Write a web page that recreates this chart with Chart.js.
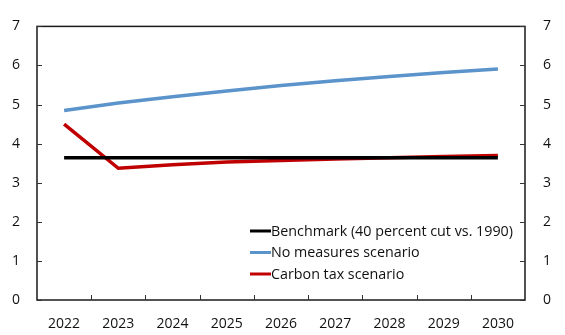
<!DOCTYPE html>
<html>
<head>
<meta charset="utf-8">
<script src="https://cdn.jsdelivr.net/npm/chart.js@4/dist/chart.umd.min.js"></script>
<style>
  html, body { margin: 0; padding: 0; background: #fff; }
  #wrap { width: 565px; height: 335px; }
</style>
</head>
<body>
<div id="wrap"><canvas id="c" width="565" height="335"></canvas></div>
<script>
// Emissions paths, 2022–2030
const years = ['2022', '2023', '2024', '2025', '2026', '2027', '2028', '2029', '2030'];
const benchmark = [3.64, 3.64, 3.64, 3.64, 3.64, 3.64, 3.64, 3.64, 3.64];
const noMeasures = [4.85, 5.04, 5.20, 5.35, 5.49, 5.61, 5.72, 5.82, 5.91];
const carbonTax = [4.50, 3.37, 3.46, 3.53, 3.57, 3.61, 3.64, 3.67, 3.70];
const yTicks = [0, 1, 2, 3, 4, 5, 6, 7];

const FONT = "'Open Sans', 'Noto Sans', sans-serif";
const AXIS = '#1a1a1a';

// Frame, inward tick marks and the in-plot legend
const framePlugin = {
  id: 'frame',
  afterDraw(chart) {
    const ctx = chart.ctx;
    const a = chart.chartArea;
    const x = chart.scales.x, y = chart.scales.y;
    ctx.save();
    ctx.strokeStyle = AXIS;
    ctx.lineWidth = 1.5;
    ctx.strokeRect(a.left, a.top, a.right - a.left, a.bottom - a.top);
    ctx.lineWidth = 1;
    ctx.strokeStyle = '#333';
    yTicks.forEach(v => {
      const py = Math.round(y.getPixelForValue(v)) + 0.5;
      ctx.beginPath();
      ctx.moveTo(a.left, py); ctx.lineTo(a.left + 5, py);
      ctx.moveTo(a.right, py); ctx.lineTo(a.right - 5, py);
      ctx.stroke();
    });
    for (let i = 0; i < years.length - 1; i++) {
      const px = Math.round((x.getPixelForValue(i) + x.getPixelForValue(i + 1)) / 2) + 0.5;
      ctx.beginPath();
      ctx.moveTo(px, a.bottom); ctx.lineTo(px, a.bottom - 5);
      ctx.stroke();
    }
    // legend
    const lx = a.right - 275, ly = a.bottom - 69, gap = 21.5;
    ctx.font = '14.3px ' + FONT;
    ctx.textBaseline = 'middle';
    ctx.textAlign = 'left';
    chart.data.datasets.forEach((ds, i) => {
      const yy = ly + i * gap;
      ctx.strokeStyle = ds.borderColor;
      ctx.lineWidth = 3;
      ctx.beginPath();
      ctx.moveTo(lx, yy); ctx.lineTo(lx + 21, yy);
      ctx.stroke();
      ctx.fillStyle = '#111';
      ctx.fillText(ds.label, lx + 21, yy + 0.5);
    });
    ctx.restore();
  }
};

new Chart(document.getElementById('c'), {
  type: 'line',
  data: {
    labels: years,
    datasets: [
      { label: 'Benchmark (40 percent cut vs. 1990)', data: benchmark, borderColor: '#000000' },
      { label: 'No measures scenario', data: noMeasures, borderColor: '#5B93CB' },
      { label: 'Carbon tax scenario', data: carbonTax, borderColor: '#C00000' }
    ].map(d => Object.assign(d, { borderWidth: 3.5, pointRadius: 0, tension: 0, fill: false, borderCapStyle: 'butt' }))
  },
  options: {
    responsive: false,
    animation: false,
    devicePixelRatio: 1,
    layout: { padding: { top: 16, left: 0, right: 0, bottom: 0 } },
    plugins: { legend: { display: false }, tooltip: { enabled: false } },
    scales: {
      x: {
        offset: true,
        grid: { display: false, drawTicks: false },
        border: { display: false },
        ticks: { color: '#111', font: { family: FONT, size: 14 }, padding: 16, maxRotation: 0, autoSkip: false },
        afterFit(s) { s.height = 35; }
      },
      y: {
        position: 'left', min: 0, max: 7,
        grid: { display: false, drawTicks: false },
        border: { display: false },
        ticks: { stepSize: 1, color: '#111', font: { family: FONT, size: 14 }, padding: 17 },
        afterFit(s) { s.width = 37; }
      },
      y2: {
        position: 'right', min: 0, max: 7,
        grid: { display: false, drawTicks: false },
        border: { display: false },
        ticks: { stepSize: 1, color: '#111', font: { family: FONT, size: 14 }, padding: 18 },
        afterFit(s) { s.width = 40; }
      }
    }
  },
  plugins: [framePlugin]
});
</script>
</body>
</html>
